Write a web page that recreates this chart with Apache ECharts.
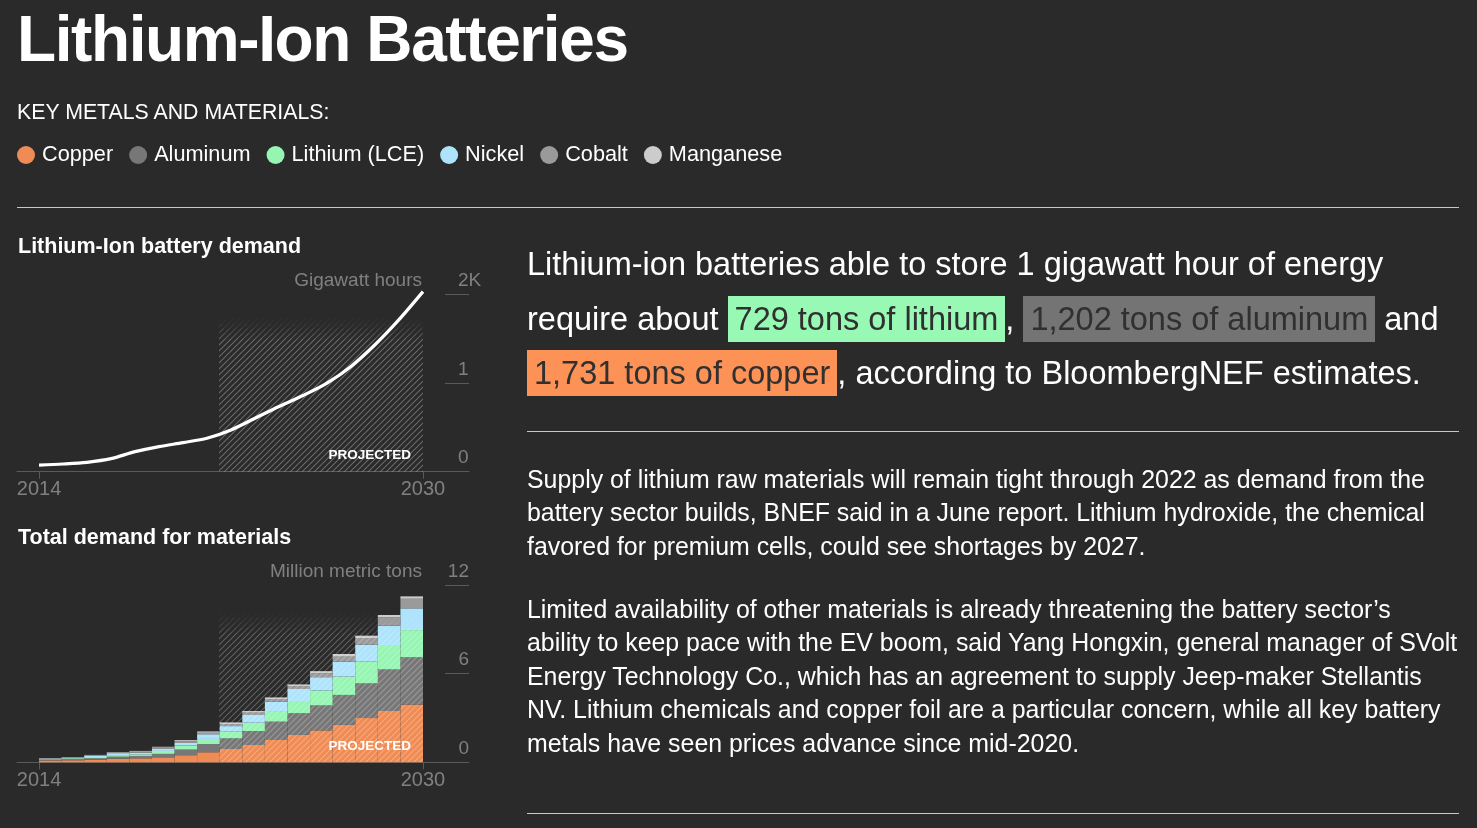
<!DOCTYPE html>
<html>
<head>
<meta charset="utf-8">
<script src="https://cdn.jsdelivr.net/npm/echarts@6/dist/echarts.min.js"></script>
<style>
  html, body { margin: 0; padding: 0; background: #2a2a2a; width: 1477px; height: 828px; overflow: hidden; }
  body { font-family: "Liberation Sans", Arial, Helvetica, sans-serif; color: #fff; }
  #chart { position: absolute; left: 0; top: 0; width: 1477px; height: 828px; }
  .t { position: absolute; white-space: nowrap; }
  .rule { position: absolute; height: 1px; background: #c8c8c8; }
  .hl { padding: 5px 7px; color: #303030; }
</style>
</head>
<body>
<div id="chart"></div>

<div class="t" style="left:17px;top:6.8px;font-weight:bold;font-size:64px;line-height:64px;letter-spacing:-1.4px;">Lithium-Ion Batteries</div>
<div class="t" style="left:17px;top:102px;font-size:21.3px;line-height:21px;">KEY METALS AND MATERIALS:</div>
<div class="rule" style="left:17px;top:207px;width:1442px;"></div>
<div class="t" style="left:18px;top:236px;font-weight:bold;font-size:21.5px;line-height:21px;">Lithium-Ion battery demand</div>
<div class="t" style="left:18px;top:527px;font-weight:bold;font-size:21.5px;line-height:21px;">Total demand for materials</div>

<div class="t" style="left:527px;top:237px;font-size:32.5px;line-height:54.5px;">
Lithium-ion batteries able to store 1 gigawatt hour of energy<br>
require about <span class="hl" style="background:#97f9b4;">729 tons of lithium</span>, <span class="hl" style="background:#747474;">1,202 tons of aluminum</span> and<br><span class="hl" style="background:#fd9257;">1,731 tons of copper</span>, according to BloombergNEF estimates.
</div>
<div class="rule" style="left:527px;top:431px;width:932px;"></div>

<div class="t" style="left:527px;top:463px;font-size:24.9px;line-height:33.3px;">
Supply of lithium raw materials will remain tight through 2022 as demand from the<br>
battery sector builds, BNEF said in a June report. Lithium hydroxide, the chemical<br>
favored for premium cells, could see shortages by 2027.
</div>
<div class="t" style="left:527px;top:593px;font-size:24.9px;line-height:33.4px;">
Limited availability of other materials is already threatening the battery sector’s<br>
ability to keep pace with the EV boom, said Yang Hongxin, general manager of SVolt<br>
Energy Technology Co., which has an agreement to supply Jeep-maker Stellantis<br>
NV. Lithium chemicals and copper foil are a particular concern, while all key battery<br>
metals have seen prices advance since mid-2020.
</div>
<div class="rule" style="left:527px;top:813px;width:932px;"></div>

<script>
// ---------------- DATA ----------------
const years = [2014, 2015, 2016, 2017, 2018, 2019, 2020, 2021, 2022, 2023, 2024, 2025, 2026, 2027, 2028, 2029, 2030];
const yearLabels = [2014, 2030];
// Lithium-ion battery demand, gigawatt hours
const demandGWh = [75, 87, 106, 147, 226, 283, 328, 377, 471, 603, 735, 859, 999, 1187, 1431, 1714, 2030];
// Total demand for materials, million metric tons
const materials = ["Copper", "Aluminum", "Lithium (LCE)", "Nickel", "Cobalt", "Manganese"];
const copper    = [0.13, 0.14, 0.17, 0.25, 0.27, 0.34, 0.48, 0.68, 0.90, 1.17, 1.51, 1.85, 2.16, 2.53, 2.99, 3.47, 3.92];
const aluminum  = [0.05, 0.07, 0.10, 0.13, 0.16, 0.23, 0.38, 0.56, 0.72, 0.95, 1.24, 1.47, 1.69, 2.03, 2.35, 2.82, 3.20];
const lithium   = [0.04, 0.06, 0.09, 0.11, 0.11, 0.20, 0.28, 0.34, 0.45, 0.56, 0.72, 0.83, 1.01, 1.24, 1.47, 1.65, 1.83];
const nickel    = [0.03, 0.04, 0.07, 0.13, 0.11, 0.14, 0.17, 0.32, 0.38, 0.52, 0.63, 0.81, 0.90, 1.01, 1.15, 1.31, 1.47];
const cobalt    = [0.02, 0.03, 0.04, 0.04, 0.07, 0.09, 0.11, 0.10, 0.14, 0.16, 0.18, 0.20, 0.27, 0.34, 0.45, 0.56, 0.65];
const manganese = [0.02, 0.02, 0.03, 0.03, 0.05, 0.05, 0.08, 0.09, 0.11, 0.11, 0.11, 0.11, 0.14, 0.18, 0.16, 0.16, 0.16];
const materialValues = [copper, aluminum, lithium, nickel, cobalt, manganese];
const gwhTicks = ["0", "1", "2K"];
const projectedLabel = "PROJECTED";
const projectedStart = 2021.5;
const projectedEnd = 2030;

// ---------------- STYLE ----------------
const colors = ["#ef8c56", "#777777", "#97f5b3", "#aee3fc", "#9a9a9a", "#cccccc"];
const FONT = '"Liberation Sans", Arial, Helvetica, sans-serif';
const GREY = "#808080";
const AXIS = "#5a5a5a";
const X_MIN = 2013.083, X_MAX = 2031.917;

function hatch(alpha) {
  const c = document.createElement("canvas");
  c.width = 6; c.height = 6;
  const g = c.getContext("2d");
  g.strokeStyle = "rgba(255,255,255," + alpha + ")";
  g.lineWidth = 1.1;
  g.beginPath();
  g.moveTo(-1, 7); g.lineTo(7, -1);
  g.moveTo(-1, 1); g.lineTo(1, -1);
  g.moveTo(5, 7); g.lineTo(7, 5);
  g.stroke();
  return { image: c, repeat: "repeat" };
}

function hatchBands(top, fadeSpan, labelShow, base) {
  const steps = [0.75, 0.5, 0.28, 0.12];
  const solidTop = top - fadeSpan;
  const bands = [[
    { xAxis: projectedStart, yAxis: 0, itemStyle: { color: hatch(base) },
      label: { show: labelShow, position: "insideBottomRight", distance: 9, offset: [-3, 0],
               formatter: projectedLabel, color: "#fff", fontWeight: "bold", fontSize: 13.5, fontFamily: FONT } },
    { xAxis: projectedEnd, yAxis: solidTop }
  ]];
  const h = fadeSpan / steps.length;
  steps.forEach((s, i) => {
    bands.push([
      { xAxis: projectedStart, yAxis: solidTop + i * h, itemStyle: { color: hatch(base * s) }, label: { show: false } },
      { xAxis: projectedEnd, yAxis: solidTop + (i + 1) * h }
    ]);
  });
  return bands;
}

const xAxisOverlay = (gi) => ({
  gridIndex: gi, type: "value", min: X_MIN, max: X_MAX,
  axisLine: { show: true, lineStyle: { color: AXIS, width: 1 } },
  axisTick: { show: true, customValues: yearLabels, length: 7, lineStyle: { color: AXIS } },
  axisLabel: { show: true, customValues: yearLabels, formatter: v => String(v), color: GREY,
               fontSize: 20, fontFamily: FONT, margin: 8 },
  splitLine: { show: false }
});

const chart = echarts.init(document.getElementById("chart"), null, { renderer: "canvas" });

const barSeries = materials.map((name, k) => ({
  name: name, type: "bar", stack: "total", xAxisIndex: 2, yAxisIndex: 2,
  data: materialValues[k], barWidth: "100%", barCategoryGap: "0%",
  itemStyle: { color: colors[k] }, z: 2, silent: true
}));

chart.setOption({
  animation: false,
  backgroundColor: "transparent",
  color: colors,
  textStyle: { fontFamily: FONT },
  legend: {
    data: materials, left: 17, top: 144, padding: 0, icon: "circle",
    itemWidth: 18, itemHeight: 18, itemGap: 16, selectedMode: false,
    textStyle: { color: "#fff", fontSize: 21.7, fontFamily: FONT, padding: [0, 0, 0, 2] }
  },
  grid: [
    { left: 17, right: 1008, top: 294.3, bottom: 356.3 },
    { left: 17, right: 1008, top: 585, bottom: 65.7 },
    { left: 39, right: 1054, top: 585, bottom: 65.7 }
  ],
  xAxis: [
    xAxisOverlay(0),
    xAxisOverlay(1),
    { gridIndex: 2, type: "category", data: years, show: false, boundaryGap: true }
  ],
  yAxis: [
    { gridIndex: 0, type: "value", position: "right", min: 0, max: 2000, interval: 1000,
      axisLine: { show: false },
      axisTick: { show: true, inside: true, length: 24, lineStyle: { color: AXIS } },
      splitLine: { show: false },
      axisLabel: { inside: true, margin: 11, align: "left", verticalAlign: "bottom", padding: [0, 0, 4, 0],
                   color: GREY, fontSize: 19, fontFamily: FONT,
                   formatter: v => gwhTicks[Math.round(v / 1000)] } },
    { gridIndex: 1, type: "value", position: "right", min: 0, max: 12, interval: 6,
      axisLine: { show: false },
      axisTick: { show: true, inside: true, length: 24, lineStyle: { color: AXIS } },
      splitLine: { show: false },
      axisLabel: { inside: true, margin: 0, align: "right", verticalAlign: "bottom", padding: [0, 0, 4, 0],
                   color: GREY, fontSize: 19, fontFamily: FONT, formatter: v => String(v) } },
    { gridIndex: 2, type: "value", min: 0, max: 12, show: false }
  ],
  graphic: [
    { type: "text", right: 1477 - 422, top: 271,
      style: { text: "Gigawatt hours", fill: GREY, fontSize: 19, fontFamily: FONT } },
    { type: "text", right: 1477 - 422, top: 562,
      style: { text: "Million metric tons", fill: GREY, fontSize: 19, fontFamily: FONT } }
  ],
  series: [
    { name: "hatchLine", type: "line", xAxisIndex: 0, yAxisIndex: 0, data: [], silent: true,
      markArea: { silent: true, z: 1, data: hatchBands(1730, 226, true, 0.3) } },
    { name: "Battery demand", type: "line", xAxisIndex: 0, yAxisIndex: 0,
      data: years.map((y, i) => [y, demandGWh[i]]),
      smooth: 0.3, showSymbol: false, clip: false, z: 3, silent: true,
      lineStyle: { color: "#ffffff", width: 3.2 } },
    ...barSeries,
    { name: "hatchBar", type: "line", xAxisIndex: 1, yAxisIndex: 1, data: [], silent: true,
      markArea: { silent: true, z: 3, data: hatchBands(10.1, 1.35, true, 0.26) } }
  ]
});
</script>
</body>
</html>
